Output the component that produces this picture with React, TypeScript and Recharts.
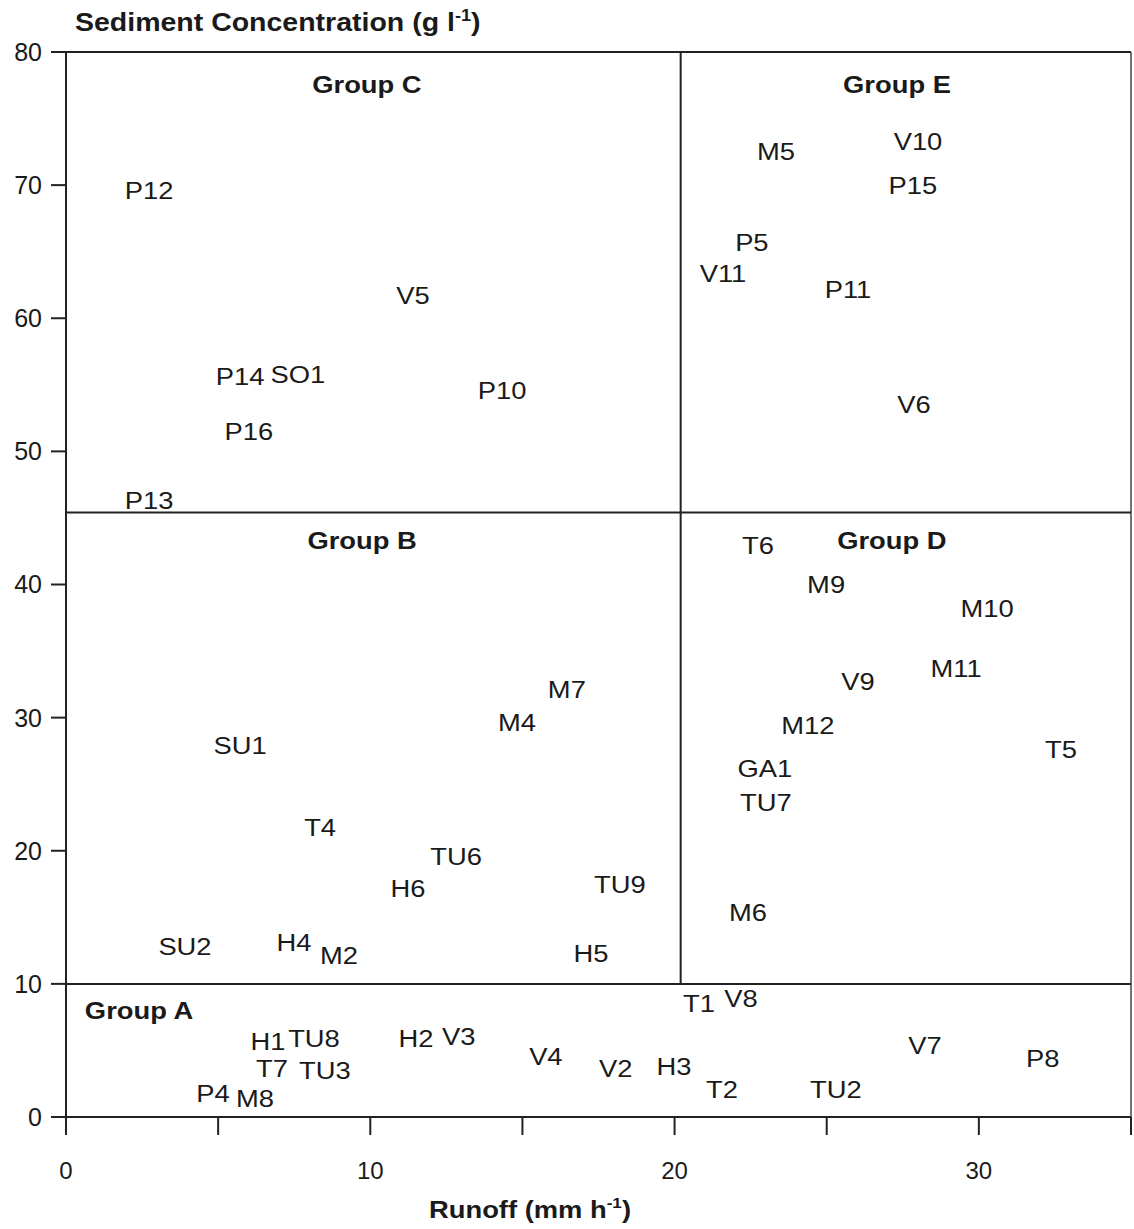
import React from "react";
import { ScatterChart, Scatter, XAxis, YAxis, ReferenceLine, Label } from "recharts";

type Pt = { name: string; x: number; y: number };

// Runoff (mm h-1) = x, Sediment concentration (g l-1) = y
const groupA: Pt[] = [
  { name: "H1", x: 6.64, y: 5.7 },
  { name: "TU8", x: 8.15, y: 5.93 },
  { name: "T7", x: 6.77, y: 3.68 },
  { name: "TU3", x: 8.51, y: 3.53 },
  { name: "P4", x: 4.83, y: 1.8 },
  { name: "M8", x: 6.21, y: 1.43 },
  { name: "H2", x: 11.5, y: 5.93 },
  { name: "V3", x: 12.91, y: 6.08 },
  { name: "V4", x: 15.77, y: 4.58 },
  { name: "V2", x: 18.07, y: 3.68 },
  { name: "H3", x: 19.98, y: 3.83 },
  { name: "T1", x: 20.8, y: 8.56 },
  { name: "V8", x: 22.18, y: 8.94 },
  { name: "T2", x: 21.56, y: 2.1 },
  { name: "TU2", x: 25.3, y: 2.1 },
  { name: "V7", x: 28.23, y: 5.4 },
  { name: "P8", x: 32.1, y: 4.43 },
];

const groupB: Pt[] = [
  { name: "SU1", x: 5.72, y: 27.94 },
  { name: "T4", x: 8.35, y: 21.78 },
  { name: "M7", x: 16.46, y: 32.15 },
  { name: "M4", x: 14.82, y: 29.67 },
  { name: "TU6", x: 12.82, y: 19.6 },
  { name: "H6", x: 11.24, y: 17.2 },
  { name: "TU9", x: 18.2, y: 17.5 },
  { name: "SU2", x: 3.91, y: 12.85 },
  { name: "H4", x: 7.49, y: 13.15 },
  { name: "M2", x: 8.97, y: 12.17 },
  { name: "H5", x: 17.25, y: 12.3 },
];

const groupC: Pt[] = [
  { name: "P12", x: 2.73, y: 69.6 },
  { name: "V5", x: 11.4, y: 61.75 },
  { name: "P14", x: 5.72, y: 55.66 },
  { name: "SO1", x: 7.62, y: 55.8 },
  { name: "P16", x: 6.01, y: 51.5 },
  { name: "P10", x: 14.33, y: 54.6 },
  { name: "P13", x: 2.73, y: 46.3 },
];

const groupD: Pt[] = [
  { name: "T6", x: 22.74, y: 42.97 },
  { name: "M9", x: 24.98, y: 40.0 },
  { name: "M10", x: 30.27, y: 38.2 },
  { name: "V9", x: 26.03, y: 32.75 },
  { name: "M11", x: 29.25, y: 33.7 },
  { name: "M12", x: 24.38, y: 29.4 },
  { name: "T5", x: 32.7, y: 27.6 },
  { name: "GA1", x: 22.97, y: 26.2 },
  { name: "TU7", x: 23.0, y: 23.65 },
  { name: "M6", x: 22.41, y: 15.4 },
];

const groupE: Pt[] = [
  { name: "M5", x: 23.33, y: 72.56 },
  { name: "V10", x: 28.0, y: 73.3 },
  { name: "P15", x: 27.83, y: 70.0 },
  { name: "P5", x: 22.54, y: 65.7 },
  { name: "V11", x: 21.59, y: 63.4 },
  { name: "P11", x: 25.7, y: 62.2 },
  { name: "V6", x: 27.87, y: 53.5 },
];

const groupTitles: Pt[] = [
  { name: "Group C", x: 9.89, y: 77.6 },
  { name: "Group E", x: 27.31, y: 77.6 },
  { name: "Group B", x: 9.73, y: 43.35 },
  { name: "Group D", x: 27.14, y: 43.35 },
  { name: "Group A", x: 2.4, y: 8.04 },
];

const xTicks = [0, 5, 10, 15, 20, 25, 30, 35];
const yTicks = [0, 10, 20, 30, 40, 50, 60, 70, 80];

// group boundaries
const lowerLimit = 10;
const upperLimit = 45.4;
const runoffLimit = 20.2;

const FONT = "'Liberation Sans', Arial, Helvetica, sans-serif";
const INK = "#1a1a1a";
const STRETCH = 1.14;

const SiteLabel = (props: any) => {
  const { cx, cy, payload } = props;
  if (cx == null || cy == null) return null;
  return (
    <text
      transform={`translate(${cx},${cy}) scale(${STRETCH},1)`}
      x={0}
      y={0}
      dy="0.36em"
      textAnchor="middle"
      fontFamily={FONT}
      fontSize={24}
      fill={INK}
    >
      {payload.name}
    </text>
  );
};

const GroupLabel = (props: any) => {
  const { cx, cy, payload } = props;
  if (cx == null || cy == null) return null;
  return (
    <text
      transform={`translate(${cx},${cy}) scale(${STRETCH},1)`}
      x={0}
      y={0}
      dy="0.36em"
      textAnchor="middle"
      fontFamily={FONT}
      fontSize={24}
      fontWeight="bold"
      fill={INK}
    >
      {payload.name}
    </text>
  );
};

const XTitle = () => (
  <text
    transform={`translate(530,1218) scale(${STRETCH},1)`}
    x={0}
    y={0}
    textAnchor="middle"
    fontFamily={FONT}
    fontSize={24}
    fontWeight="bold"
    fill={INK}
  >
    Runoff (mm h
    <tspan fontSize={15} dy={-10}>-1</tspan>
    <tspan dy={10}>)</tspan>
  </text>
);

const YTitle = () => (
  <text
    transform={`translate(75,31) scale(${STRETCH},1)`}
    x={0}
    y={0}
    textAnchor="start"
    fontFamily={FONT}
    fontSize={25}
    fontWeight="bold"
    fill={INK}
  >
    Sediment Concentration (g l
    <tspan fontSize={16} dy={-10}>-1</tspan>
    <tspan dy={10}>)</tspan>
  </text>
);

export default function App() {
  const lineProps = { stroke: "#222", strokeWidth: 2 };
  return (
    <div style={{ position: "absolute", left: 0, top: 0, background: "#fff" }}>
      <ScatterChart
        width={1134}
        height={1229}
        margin={{ top: 52, right: 3, bottom: 0, left: 0 }}
      >
        <XAxis
          type="number"
          dataKey="x"
          domain={[0, 35]}
          ticks={xTicks}
          tickFormatter={(v: number) => (v % 10 === 0 ? String(v) : "")}
          height={112}
          tickSize={18}
          tickMargin={27}
          axisLine={lineProps}
          tickLine={lineProps}
          tick={{ fontFamily: FONT, fontSize: 24, fill: INK }}
          allowDataOverflow
        >
          <Label content={XTitle} />
        </XAxis>
        <YAxis
          type="number"
          dataKey="y"
          domain={[0, 80]}
          ticks={yTicks}
          width={66}
          tickSize={15}
          tickMargin={9}
          axisLine={lineProps}
          tickLine={lineProps}
          tick={{ fontFamily: FONT, fontSize: 25, fill: INK }}
          allowDataOverflow
        >
          <Label content={YTitle} />
        </YAxis>
        <ReferenceLine y={80} stroke="#222" strokeWidth={2} ifOverflow="visible" />
        <ReferenceLine x={35} stroke="#444" strokeWidth={1.5} ifOverflow="visible" />
        <ReferenceLine y={lowerLimit} stroke="#222" strokeWidth={2} />
        <ReferenceLine y={upperLimit} stroke="#222" strokeWidth={2} />
        <ReferenceLine
          segment={[
            { x: runoffLimit, y: lowerLimit },
            { x: runoffLimit, y: 80 },
          ]}
          stroke="#222"
          strokeWidth={2}
        />
        <Scatter data={groupA} shape={SiteLabel} isAnimationActive={false} />
        <Scatter data={groupB} shape={SiteLabel} isAnimationActive={false} />
        <Scatter data={groupC} shape={SiteLabel} isAnimationActive={false} />
        <Scatter data={groupD} shape={SiteLabel} isAnimationActive={false} />
        <Scatter data={groupE} shape={SiteLabel} isAnimationActive={false} />
        <Scatter data={groupTitles} shape={GroupLabel} isAnimationActive={false} />
      </ScatterChart>
    </div>
  );
}
